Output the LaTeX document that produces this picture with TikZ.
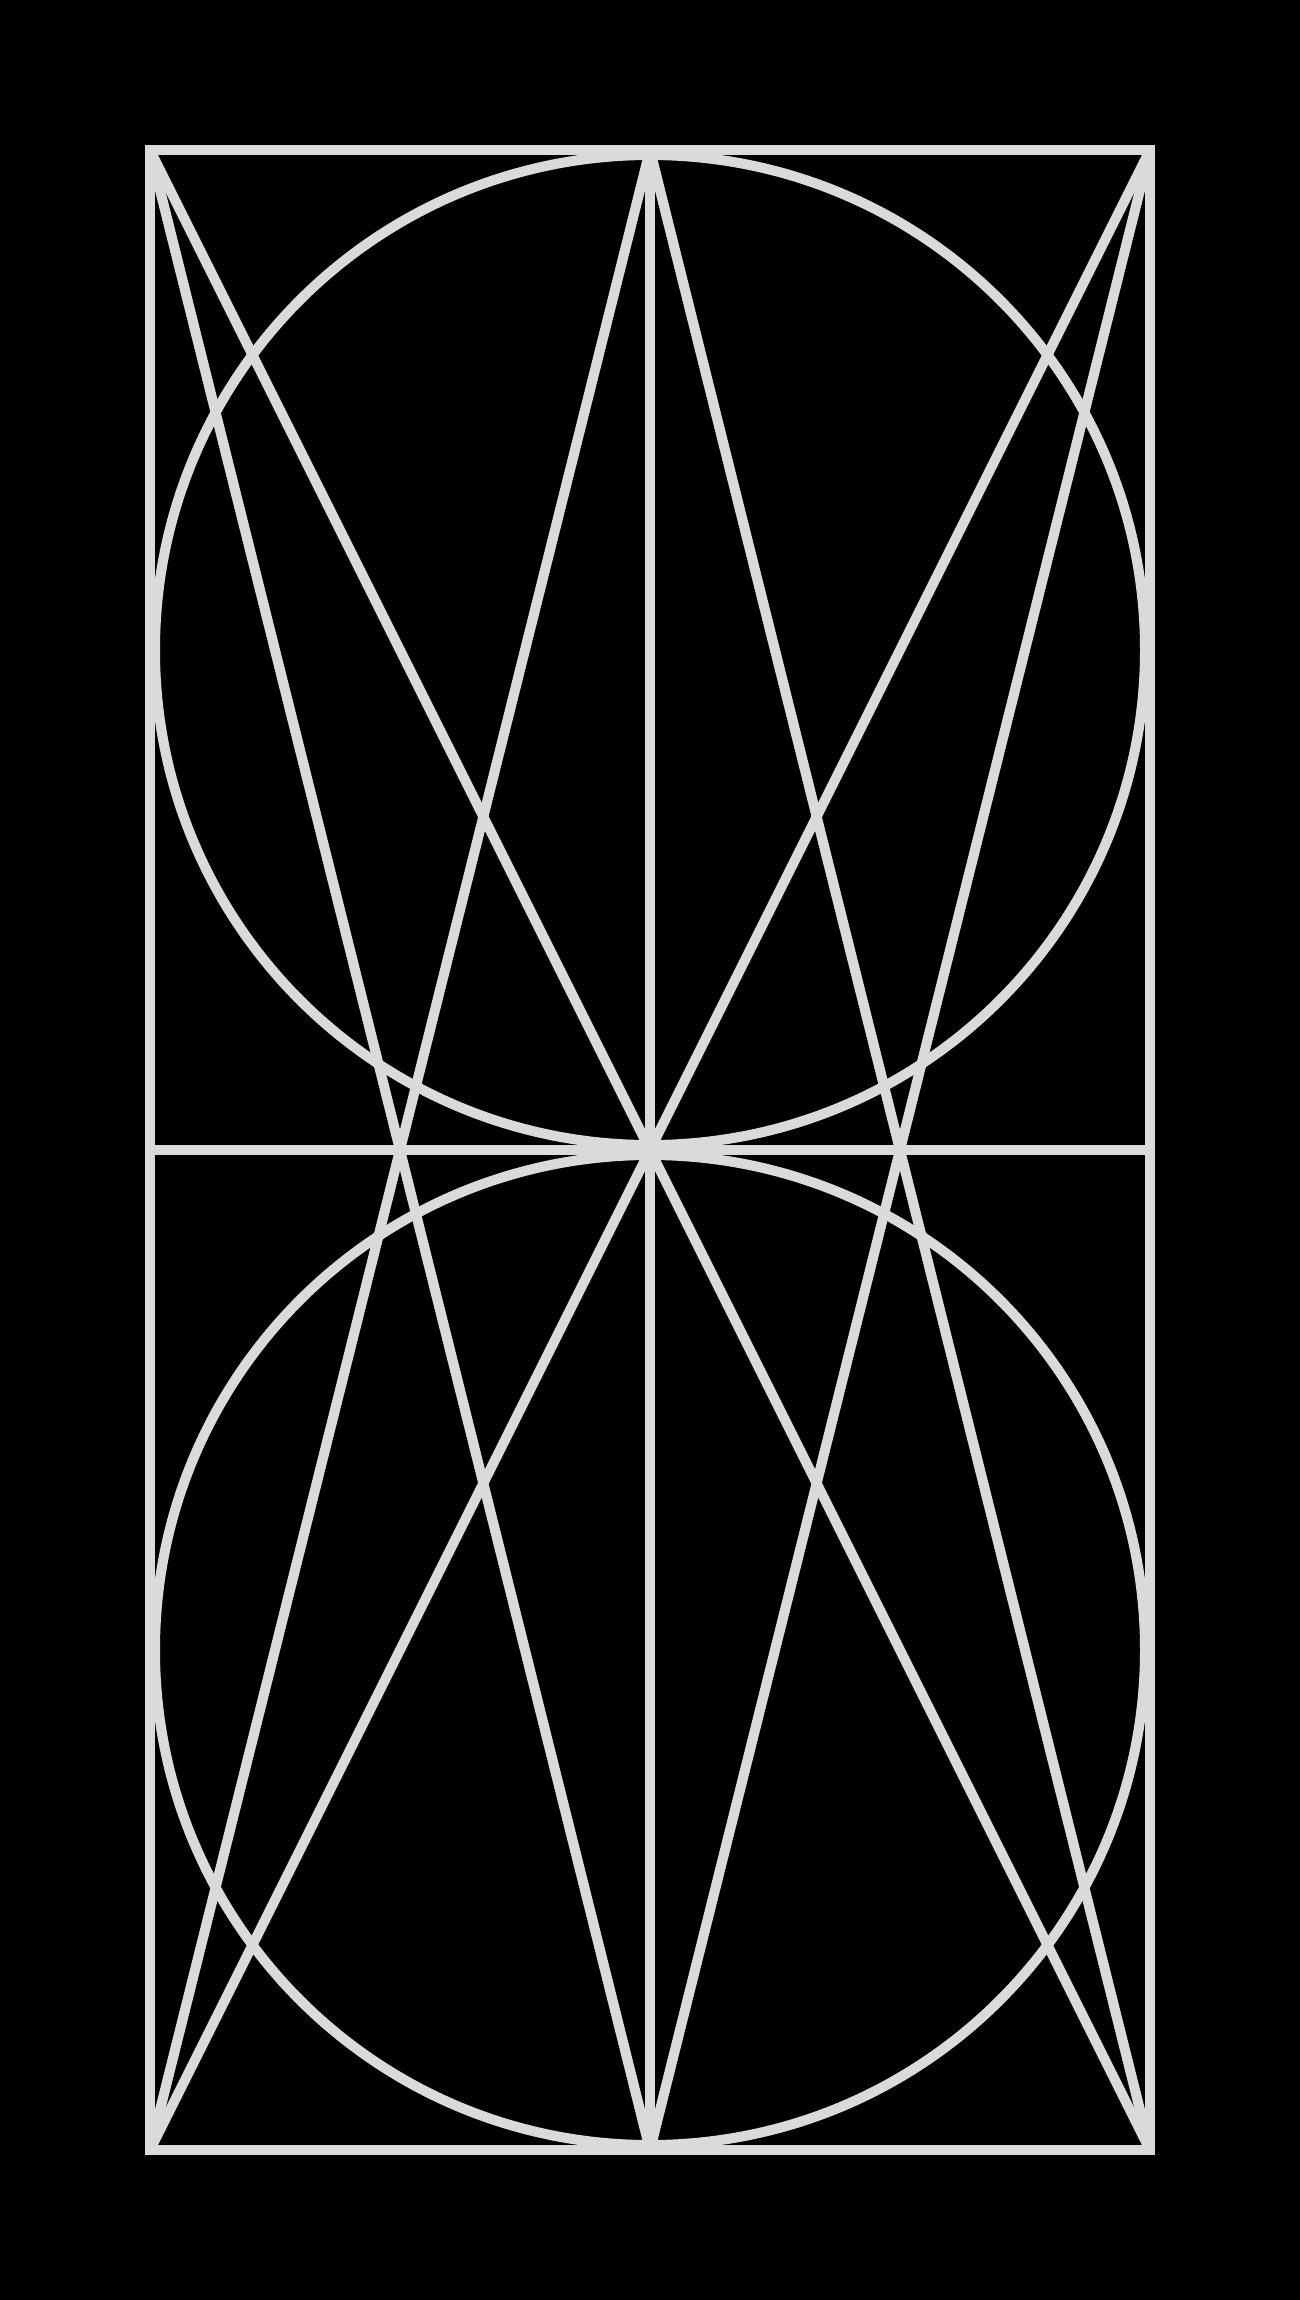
\documentclass[tikz,border=0pt]{standalone}
\usetikzlibrary{calc}
\definecolor{linegray}{RGB}{218,218,218}
\begin{document}
\begin{tikzpicture}[x=0.1mm,y=-0.1mm,
  geo/.style={draw=linegray,line width=1mm,line cap=butt,line join=miter}]
  \fill[black] (0,0) rectangle (1300,2300);
  \useasboundingbox (0,0) rectangle (1300,2300);
  % key points
  \coordinate (TL) at (150,150);
  \coordinate (TR) at (1150,150);
  \coordinate (BL) at (150,2150);
  \coordinate (BR) at (1150,2150);
  \coordinate (TM) at (650,150);
  \coordinate (BM) at (650,2150);
  \coordinate (ML) at (150,1150);
  \coordinate (MR) at (1150,1150);
  \coordinate (C1) at (650,650);
  \coordinate (C2) at (650,1650);
  % circles
  \draw[geo] (C1) circle[radius=495];
  \draw[geo] (C2) circle[radius=495];
  % straight lines
  \draw[geo] (TM) -- (BM);
  \draw[geo] (ML) -- (MR);
  \draw[geo] (TL) -- (BR);
  \draw[geo] (TR) -- (BL);
  \draw[geo] (TL) -- (BM);
  \draw[geo] (TR) -- (BM);
  \draw[geo] (BL) -- (TM);
  \draw[geo] (BR) -- (TM);
  % frame
  \draw[geo] (TL) rectangle (BR);
\end{tikzpicture}
\end{document}
